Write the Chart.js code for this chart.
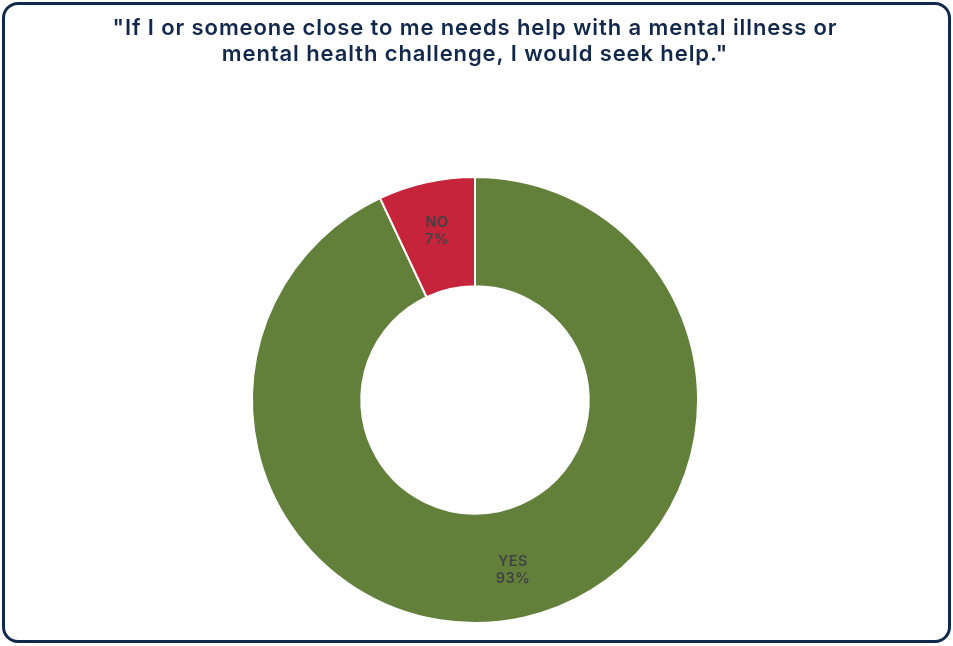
<!DOCTYPE html>
<html>
<head>
<meta charset="utf-8">
<script src="https://cdn.jsdelivr.net/npm/chart.js@4"></script>
<style>
  html, body { margin: 0; padding: 0; background: #fff; }
  #wrap { position: relative; width: 953px; height: 646px; }
  #frame {
    position: absolute; left: 2px; top: 2px; width: 943px; height: 635px;
    border: 3px solid #10294d; border-radius: 16px; pointer-events: none;
  }
  canvas { position: absolute; left: 0; top: 0; }
</style>
</head>
<body>
<div id="wrap">
  <canvas id="chart" width="953" height="646"></canvas>
  <div id="frame"></div>
</div>
<script>
const titleLines = ['"If I or someone close to me needs help with a mental illness or',
                    'mental health challenge, I would seek help."'];
const answers = ['YES', 'NO'];
const shares = [93, 7];
const sliceColors = ['#62803a', '#c6243a'];

// wider tracking for the title text
const titleSpacing = {
  id: 'titleSpacing',
  beforeDraw(chart) { chart.ctx.letterSpacing = '0.9px'; },
  beforeDatasetsDraw(chart) { chart.ctx.letterSpacing = '0px'; }
};

// writes "LABEL / NN%" a bit outside the middle of each ring slice
const sliceLabels = {
  id: 'sliceLabels',
  afterDatasetsDraw(chart) {
    const ctx = chart.ctx;
    const meta = chart.getDatasetMeta(0);
    ctx.save();
    ctx.letterSpacing = '0.5px';
    ctx.fillStyle = '#424242';
    ctx.font = '600 14.5px Inter, sans-serif';
    ctx.textAlign = 'center';
    ctx.textBaseline = 'middle';
    meta.data.forEach((arc, i) => {
      const mid = (arc.startAngle + arc.endAngle) / 2;
      const r = arc.innerRadius + 0.55 * (arc.outerRadius - arc.innerRadius);
      const x = arc.x + Math.cos(mid) * r;
      const y = arc.y + Math.sin(mid) * r;
      ctx.fillText(answers[i], x, y - 8);
      ctx.fillText(shares[i] + '%', x, y + 9);
    });
    ctx.restore();
  }
};

new Chart(document.getElementById('chart'), {
  type: 'doughnut',
  data: {
    labels: answers,
    datasets: [{
      data: shares,
      backgroundColor: sliceColors,
      borderColor: '#ffffff',
      borderWidth: 2
    }]
  },
  options: {
    responsive: false,
    animation: false,
    cutout: '51%',
    layout: { padding: { bottom: 22, right: 3 } },
    plugins: {
      legend: { display: false },
      tooltip: { enabled: false },
      title: {
        display: true,
        text: titleLines,
        color: '#13294b',
        font: { family: 'Inter, sans-serif', size: 22, weight: '600', lineHeight: 1.18 },
        padding: { top: 15, bottom: 109 }
      }
    }
  },
  plugins: [titleSpacing, sliceLabels]
});
</script>
</body>
</html>
